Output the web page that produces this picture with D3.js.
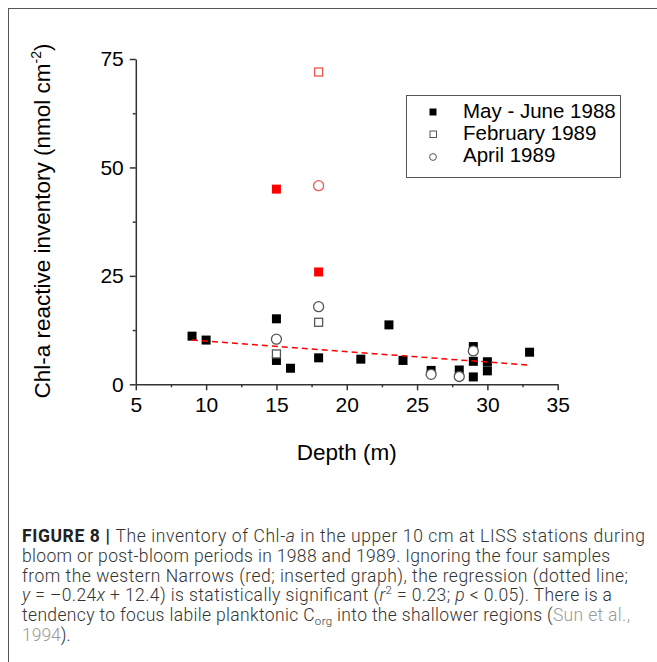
<!DOCTYPE html>
<html><head><meta charset="utf-8">
<script src="https://cdn.jsdelivr.net/npm/d3@7"></script>
<style>
body{margin:0;background:#fff;}
svg{display:block;}
</style></head>
<body>
<script>
// ---- data ----
const mayX = [9, 10, 15, 15, 16, 18, 21, 23, 24, 26, 28, 29, 29, 29, 30, 30, 33];
const mayY = [11.1, 10.2, 15.1, 5.5, 3.7, 6.1, 5.8, 13.7, 5.5, 3.2, 3.3, 8.7, 5.3, 1.7, 5.2, 3.1, 7.4];
const mayRedX = [15, 18];
const mayRedY = [45.0, 25.9];
const febX = [15, 18];
const febY = [7.0, 14.3];
const febRedX = [18];
const febRedY = [72.0];
const aprX = [15, 18, 26, 28, 29];
const aprY = [10.4, 17.9, 2.3, 1.8, 7.7];
const aprRedX = [18];
const aprRedY = [45.8];
const regX = [9, 33];
const regY = [10.2, 4.4];
const xTicks = [5, 10, 15, 20, 25, 30, 35];
const yTicks = [0, 25, 50, 75];
const legendLabels = ["May - June 1988", "February 1989", "April 1989"];
const captionLines = [
  [["b","FIGURE 8 | "],["n","The inventory of Chl-"],["i","a"],["n"," in the upper 10 cm at LISS stations during"]],
  [["n","bloom or post-bloom periods in 1988 and 1989. Ignoring the four samples"]],
  [["n","from the western Narrows (red; inserted graph), the regression (dotted line;"]],
  [["i","y"],["n"," = \u20130.24"],["i","x"],["n"," + 12.4) is statistically significant ("],["i","r"],["sup","2"],["n"," = 0.23; "],["i","p"],["n"," < 0.05). There is a"]],
  [["n","tendency to focus labile planktonic C"],["sub","org"],["n"," into the shallower regions ("],["g","Sun et al.,"]],
  [["g","1994"],["n",")."]]
];
const captionWidths = [623, 588, 606, 590, 608, null];

const W = 657, H = 662;
const svg = d3.select("body").append("svg").attr("width", W).attr("height", H);

// outer frame
svg.append("rect").attr("x", 8.5).attr("y", 8.5).attr("width", 700).attr("height", 700)
  .attr("fill", "none").attr("stroke", "#555").attr("stroke-width", 1);

const x = d3.scaleLinear().domain([5, 35]).range([135.8, 557.7]);
const y = d3.scaleLinear().domain([0, 75]).range([384.3, 59]);

const axisColor = "#333";
const font = "'Liberation Sans', Arial, sans-serif";

// x axis
const gx = svg.append("g").attr("transform", `translate(0,${y(0)})`)
  .call(d3.axisBottom(x).tickValues(xTicks).tickSize(6).tickPadding(5).tickSizeOuter(0).tickFormat(d3.format("d")));
gx.selectAll("text").attr("font-family", font).attr("font-size", 21).attr("fill", "#000").attr("dy", "0.8em");
const gxm = svg.append("g").attr("transform", `translate(0,${y(0)})`)
  .call(d3.axisBottom(x).tickValues(d3.range(7.5, 35, 5)).tickSize(3).tickFormat(""));
gxm.select(".domain").remove();

// y axis
const gy = svg.append("g").attr("transform", `translate(${x(5)},0)`)
  .call(d3.axisLeft(y).tickValues(yTicks).tickSize(6).tickPadding(6).tickSizeOuter(0).tickFormat(d3.format("d")));
gy.selectAll("text").attr("font-family", font).attr("font-size", 21).attr("fill", "#000");
const gym = svg.append("g").attr("transform", `translate(${x(5)},0)`)
  .call(d3.axisLeft(y).tickValues(d3.range(12.5, 75, 25)).tickSize(3).tickFormat(""));
gym.select(".domain").remove();

[gx, gxm, gy, gym].forEach(g => {
  g.selectAll("line").attr("stroke", axisColor).attr("stroke-width", 1.5);
  g.selectAll(".domain").attr("stroke", axisColor).attr("stroke-width", 1.5);
});

// axis labels
svg.append("text").attr("x", (x(5) + x(35)) / 2).attr("y", 460)
  .attr("text-anchor", "middle").attr("font-family", font).attr("font-size", 22.5).text("Depth (m)");

const yl = svg.append("text").attr("transform", "translate(50,221) rotate(-90)")
  .attr("text-anchor", "middle").attr("font-family", font).attr("font-size", 22.5);
yl.append("tspan").text("Chl-a reactive inventory (nmol cm");
yl.append("tspan").attr("font-size", 14).attr("dy", -9).text("-2");
yl.append("tspan").attr("dy", 9).text(")");

const sq = 9, cr = 5;
function zip(a, b) { return a.map((v, i) => [v, b[i]]); }

// filled squares
svg.append("g").selectAll("rect").data(zip(mayX, mayY)).join("rect")
  .attr("x", d => x(d[0]) - sq / 2).attr("y", d => y(d[1]) - sq / 2)
  .attr("width", sq).attr("height", sq).attr("fill", "#000");
svg.append("g").selectAll("rect").data(zip(mayRedX, mayRedY)).join("rect")
  .attr("x", d => x(d[0]) - sq / 2).attr("y", d => y(d[1]) - sq / 2)
  .attr("width", sq).attr("height", sq).attr("fill", "#ff0000");
// open squares
svg.append("g").selectAll("rect").data(zip(febX, febY)).join("rect")
  .attr("x", d => x(d[0]) - sq / 2 + 0.5).attr("y", d => y(d[1]) - sq / 2 + 0.5)
  .attr("width", sq - 1).attr("height", sq - 1).attr("fill", "#fff").attr("stroke", "#555").attr("stroke-width", 1.3);
svg.append("g").selectAll("rect").data(zip(febRedX, febRedY)).join("rect")
  .attr("x", d => x(d[0]) - sq / 2 + 0.5).attr("y", d => y(d[1]) - sq / 2 + 0.5)
  .attr("width", sq - 1).attr("height", sq - 1).attr("fill", "#fff").attr("stroke", "#f05555").attr("stroke-width", 1.3);
// circles
svg.append("g").selectAll("circle").data(zip(aprX, aprY)).join("circle")
  .attr("cx", d => x(d[0])).attr("cy", d => y(d[1])).attr("r", cr)
  .attr("fill", "#fff").attr("stroke", "#555").attr("stroke-width", 1.3);
svg.append("g").selectAll("circle").data(zip(aprRedX, aprRedY)).join("circle")
  .attr("cx", d => x(d[0])).attr("cy", d => y(d[1])).attr("r", cr)
  .attr("fill", "#fff").attr("stroke", "#f05555").attr("stroke-width", 1.3);

// regression line
svg.append("path").datum(zip(regX, regY))
  .attr("d", d3.line().x(d => x(d[0])).y(d => y(d[1])))
  .attr("stroke", "#ff0000").attr("stroke-width", 1.5).attr("stroke-dasharray", "6,4").attr("fill", "none");

// legend
const lg = svg.append("g");
lg.append("rect").attr("x", 406.5).attr("y", 95.5).attr("width", 214).attr("height", 82)
  .attr("fill", "#fff").attr("stroke", "#555").attr("stroke-width", 1);
const rows = [118, 140, 162];
legendLabels.forEach((lab, i) => {
  const cy = rows[i] - 6;
  if (i === 0) lg.append("rect").attr("x", 433 - 3.5).attr("y", cy - 3.5).attr("width", 7).attr("height", 7).attr("fill", "#000");
  if (i === 1) lg.append("rect").attr("x", 433 - 3).attr("y", cy - 3).attr("width", 6.5).attr("height", 6.5).attr("fill", "#fff").attr("stroke", "#555").attr("stroke-width", 1);
  if (i === 2) lg.append("circle").attr("cx", 433).attr("cy", cy + 1).attr("r", 3.4).attr("fill", "#fff").attr("stroke", "#555").attr("stroke-width", 1);
  lg.append("text").attr("x", 463).attr("y", rows[i]).attr("font-family", font).attr("font-size", 20.5).text(lab);
});

// caption
const capFont = "Roboto, 'Liberation Sans Narrow', sans-serif";
const cap = svg.append("g");
captionLines.forEach((parts, i) => {
  const t = cap.append("text").attr("x", 22).attr("y", 542 + i * 19.8)
    .attr("font-family", capFont).attr("font-size", 17.5).attr("font-weight", 300).attr("fill", "#333");
  if (captionWidths[i]) t.attr("textLength", captionWidths[i]).attr("lengthAdjust", "spacing");
  let shift = 0;
  parts.forEach(([k, s]) => {
    const ts = t.append("tspan").text(s);
    if (k === "b") ts.attr("font-weight", 700).attr("fill", "#222");
    if (k === "i") ts.attr("font-style", "italic");
    if (k === "g") ts.attr("fill", "#999");
    if (k === "sup") { ts.attr("font-size", 11.5).attr("dy", -7); shift = 7; }
    else if (k === "sub") { ts.attr("font-size", 11.5).attr("dy", 4); shift = -4; }
    else if (shift !== 0) { ts.attr("dy", shift); shift = 0; }
  });
});
</script>
</body></html>
